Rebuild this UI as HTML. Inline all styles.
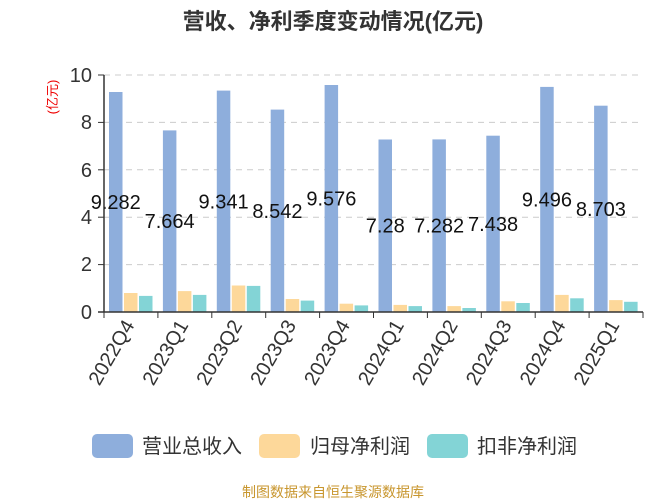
<!DOCTYPE html>
<html><head><meta charset="utf-8"><style>
body{margin:0;background:#fff;}
svg{display:block;font-family:"Liberation Sans","Noto Sans CJK SC",sans-serif;}
</style></head><body>
<svg width="667" height="500" viewBox="0 0 667 500">
<text x="333" y="29" text-anchor="middle" font-size="22" font-weight="bold" fill="#333">营收、净利季度变动情况(亿元)</text>
<text transform="translate(57,97) rotate(-90)" text-anchor="middle" font-size="13" fill="#e00">(亿元)</text>
<g stroke="#ccc" stroke-dasharray="6,5" stroke-width="1">
<line x1="104" x2="643" y1="75" y2="75"/><line x1="104" x2="643" y1="122.4" y2="122.4"/>
<line x1="104" x2="643" y1="169.8" y2="169.8"/><line x1="104" x2="643" y1="217.2" y2="217.2"/>
<line x1="104" x2="643" y1="264.6" y2="264.6"/>
</g>
<g font-size="20" fill="#333" text-anchor="end">
<text x="92" y="82">10</text><text x="92" y="129">8</text><text x="92" y="177">6</text>
<text x="92" y="224">4</text><text x="92" y="271">2</text><text x="92" y="319">0</text>
</g>
<g transform="translate(104,0)"><rect x="5" y="92" width="13.5" height="220" fill="#8eaedc"/><rect x="20" y="293" width="13.5" height="19" fill="#fdd89a"/><rect x="35" y="295.9" width="13.5" height="16.1" fill="#83d4d6"/><line x1="0" x2="0" y1="312" y2="318" stroke="#333"/><text x="11.75" y="209" text-anchor="middle" font-size="20" fill="#111">9.282</text><text transform="translate(31,325) rotate(-60)" text-anchor="end" font-size="20" fill="#333">2022Q4</text></g>
<g transform="translate(157.9,0)"><rect x="5" y="130.4" width="13.5" height="181.6" fill="#8eaedc"/><rect x="20" y="291.1" width="13.5" height="20.9" fill="#fdd89a"/><rect x="35" y="294.9" width="13.5" height="17.1" fill="#83d4d6"/><line x1="0" x2="0" y1="312" y2="318" stroke="#333"/><text x="11.75" y="228.2" text-anchor="middle" font-size="20" fill="#111">7.664</text><text transform="translate(31,325) rotate(-60)" text-anchor="end" font-size="20" fill="#333">2023Q1</text></g>
<g transform="translate(211.8,0)"><rect x="5" y="90.6" width="13.5" height="221.4" fill="#8eaedc"/><rect x="20" y="285.5" width="13.5" height="26.5" fill="#fdd89a"/><rect x="35" y="285.9" width="13.5" height="26.1" fill="#83d4d6"/><line x1="0" x2="0" y1="312" y2="318" stroke="#333"/><text x="11.75" y="208.3" text-anchor="middle" font-size="20" fill="#111">9.341</text><text transform="translate(31,325) rotate(-60)" text-anchor="end" font-size="20" fill="#333">2023Q2</text></g>
<g transform="translate(265.7,0)"><rect x="5" y="109.6" width="13.5" height="202.4" fill="#8eaedc"/><rect x="20" y="299" width="13.5" height="13" fill="#fdd89a"/><rect x="35" y="300.6" width="13.5" height="11.4" fill="#83d4d6"/><line x1="0" x2="0" y1="312" y2="318" stroke="#333"/><text x="11.75" y="217.8" text-anchor="middle" font-size="20" fill="#111">8.542</text><text transform="translate(31,325) rotate(-60)" text-anchor="end" font-size="20" fill="#333">2023Q3</text></g>
<g transform="translate(319.6,0)"><rect x="5" y="85" width="13.5" height="227" fill="#8eaedc"/><rect x="20" y="303.7" width="13.5" height="8.3" fill="#fdd89a"/><rect x="35" y="305.4" width="13.5" height="6.6" fill="#83d4d6"/><line x1="0" x2="0" y1="312" y2="318" stroke="#333"/><text x="11.75" y="205.5" text-anchor="middle" font-size="20" fill="#111">9.576</text><text transform="translate(31,325) rotate(-60)" text-anchor="end" font-size="20" fill="#333">2023Q4</text></g>
<g transform="translate(373.5,0)"><rect x="5" y="139.5" width="13.5" height="172.5" fill="#8eaedc"/><rect x="20" y="304.9" width="13.5" height="7.1" fill="#fdd89a"/><rect x="35" y="306.1" width="13.5" height="5.9" fill="#83d4d6"/><line x1="0" x2="0" y1="312" y2="318" stroke="#333"/><text x="11.75" y="232.7" text-anchor="middle" font-size="20" fill="#111">7.28</text><text transform="translate(31,325) rotate(-60)" text-anchor="end" font-size="20" fill="#333">2024Q1</text></g>
<g transform="translate(427.4,0)"><rect x="5" y="139.4" width="13.5" height="172.6" fill="#8eaedc"/><rect x="20" y="306.1" width="13.5" height="5.9" fill="#fdd89a"/><rect x="35" y="308" width="13.5" height="4" fill="#83d4d6"/><line x1="0" x2="0" y1="312" y2="318" stroke="#333"/><text x="11.75" y="232.7" text-anchor="middle" font-size="20" fill="#111">7.282</text><text transform="translate(31,325) rotate(-60)" text-anchor="end" font-size="20" fill="#333">2024Q2</text></g>
<g transform="translate(481.3,0)"><rect x="5" y="135.7" width="13.5" height="176.3" fill="#8eaedc"/><rect x="20" y="301.3" width="13.5" height="10.7" fill="#fdd89a"/><rect x="35" y="303" width="13.5" height="9" fill="#83d4d6"/><line x1="0" x2="0" y1="312" y2="318" stroke="#333"/><text x="11.75" y="230.9" text-anchor="middle" font-size="20" fill="#111">7.438</text><text transform="translate(31,325) rotate(-60)" text-anchor="end" font-size="20" fill="#333">2024Q3</text></g>
<g transform="translate(535.2,0)"><rect x="5" y="86.9" width="13.5" height="225.1" fill="#8eaedc"/><rect x="20" y="294.9" width="13.5" height="17.1" fill="#fdd89a"/><rect x="35" y="298.3" width="13.5" height="13.7" fill="#83d4d6"/><line x1="0" x2="0" y1="312" y2="318" stroke="#333"/><text x="11.75" y="206.5" text-anchor="middle" font-size="20" fill="#111">9.496</text><text transform="translate(31,325) rotate(-60)" text-anchor="end" font-size="20" fill="#333">2024Q4</text></g>
<g transform="translate(589.1,0)"><rect x="5" y="105.7" width="13.5" height="206.3" fill="#8eaedc"/><rect x="20" y="300.1" width="13.5" height="11.9" fill="#fdd89a"/><rect x="35" y="301.8" width="13.5" height="10.2" fill="#83d4d6"/><line x1="0" x2="0" y1="312" y2="318" stroke="#333"/><text x="11.75" y="215.9" text-anchor="middle" font-size="20" fill="#111">8.703</text><text transform="translate(31,325) rotate(-60)" text-anchor="end" font-size="20" fill="#333">2025Q1</text></g>
<line x1="643" x2="643" y1="312" y2="318" stroke="#333"/>
<line x1="104" y1="75" x2="104" y2="312" stroke="#333" stroke-width="1.5"/>
<line x1="98" y1="75" x2="104" y2="75" stroke="#333"/>
<line x1="98" y1="122.4" x2="104" y2="122.4" stroke="#333"/>
<line x1="98" y1="169.8" x2="104" y2="169.8" stroke="#333"/>
<line x1="98" y1="217.2" x2="104" y2="217.2" stroke="#333"/>
<line x1="98" y1="264.6" x2="104" y2="264.6" stroke="#333"/>
<line x1="98" y1="312" x2="643" y2="312" stroke="#333" stroke-width="1.5"/>
<rect x="92" y="434" width="41" height="24" rx="5" fill="#8eaedc"/>
<text x="142" y="453" font-size="20" fill="#333">营业总收入</text>
<rect x="259" y="434" width="41" height="24" rx="5" fill="#fdd89a"/>
<text x="310" y="453" font-size="20" fill="#333">归母净利润</text>
<rect x="427" y="434" width="41" height="24" rx="5" fill="#83d4d6"/>
<text x="477" y="453" font-size="20" fill="#333">扣非净利润</text>
<text x="333" y="497" text-anchor="middle" font-size="14" fill="#c8962e">制图数据来自恒生聚源数据库</text>
</svg>
</body></html>
